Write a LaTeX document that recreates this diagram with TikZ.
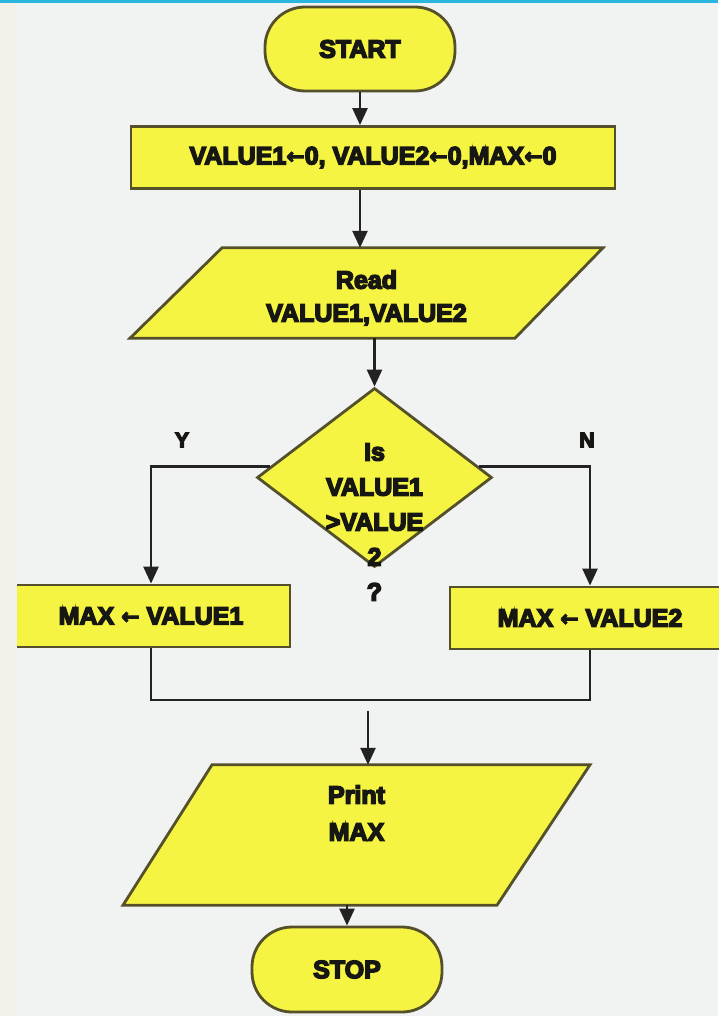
\documentclass[tikz,border=0pt]{standalone}
\usepackage{fontspec}
\setmainfont{Liberation Sans}[BoldFeatures={FakeBold=6}]
\newfontfamily\arrowfont{DejaVu Sans}[BoldFeatures={FakeBold=4}]
\newcommand\myarrow{{\arrowfont\bfseries\fontsize{22}{22}\selectfont\raisebox{0.5pt}{←}}}
\usetikzlibrary{shapes.geometric,arrows.meta,backgrounds,calc}
\definecolor{yel}{RGB}{246,244,66}
\definecolor{boxcol}{RGB}{84,80,42}
\definecolor{linecol}{RGB}{34,34,34}
\definecolor{txtcol}{RGB}{22,22,18}
\definecolor{bgmain}{RGB}{241,242,242}
\definecolor{bgside}{RGB}{243,240,234}
\definecolor{topc}{RGB}{40,182,222}
\newcommand\mylines[3]{\makebox[0pt]{\raisebox{#1}[0pt][0pt]{\fontsize{25}{#2}\selectfont\begin{tabular}[t]{@{}c@{}}#3\end{tabular}}}}
\tikzset{
  shapeline/.style={draw=boxcol, line width=2.8pt, fill=yel, inner sep=0pt},
  conn/.style={draw=linecol, line width=2.5pt},
  arr/.style={conn, -{Triangle[length=17pt,width=15pt]}},
  txt/.style={font=\bfseries\fontsize{25}{35}\selectfont, text=txtcol},
  term/.style={shapeline, txt, rectangle, rounded corners=40pt, minimum width=190pt, minimum height=84pt},
  procbox/.style={shapeline, txt, rectangle, minimum height=62pt},
  iotext/.style={txt, rectangle, inner sep=0pt},
  lbl/.style={font=\bfseries\fontsize{21}{24}\selectfont, text=txtcol, inner sep=0pt},
}
\begin{document}
\begin{tikzpicture}[x=1pt,y=-1pt]
\useasboundingbox (0,0) rectangle (718,1016);
\begin{scope}[on background layer]
  \fill[bgmain] (0,0) rectangle (718,1016);
\end{scope}
\node[term] (start) at (360,49) {START};
\node[procbox, minimum width=484pt] (init) at (373,157.5) {VALUE1\myarrow0, VALUE2\myarrow0,MAX\myarrow0};
\node[iotext, minimum height=90pt] (read) at (366.5,293) {\mylines{4.4pt}{33pt}{Read\\VALUE1,VALUE2}};
\node[shapeline, txt, diamond, minimum width=235pt, minimum height=179pt] (dia) at (374.5,477.5) {\mylines{17pt}{35pt}{Is\\VALUE1\\>VALUE\\2\\?}};
\node[lbl] (ylab) at (182,440) {Y};
\node[lbl] (nlab) at (587,440) {N};
\node[procbox, minimum width=278pt] (b1) at (151,616) {MAX \myarrow\ VALUE1};
\node[procbox, minimum width=280pt] (b2) at (590,618) {MAX \myarrow\ VALUE2};
\node[iotext, minimum height=140pt] (print) at (356.5,835) {\mylines{31.4pt}{37pt}{Print\\MAX}};
\node[term, minimum height=85pt] (stop) at (347,969.5) {STOP};
\begin{scope}[on background layer]
  \draw[shapeline] ($(read.north)+(-144.5,0)$) -- ($(read.north)+(236.5,0)$)
     -- ($(read.south)+(148.5,0)$) -- ($(read.south)+(-236.5,0)$) -- cycle;
  \draw[shapeline] ($(print.north)+(-144.5,0)$) -- ($(print.north)+(233.5,0)$)
     -- ($(print.south)+(140.5,0)$) -- ($(print.south)+(-233.5,0)$) -- cycle;
\end{scope}
\coordinate (mrg) at (368,700);
\coordinate (mrgout) at (368,711);
% connectors
\draw[arr] (start.south) -- (start.south |- init.north);
\draw[arr] (init.south -| start.south) -- (start.south |- read.north);
\draw[arr] (dia.north |- read.south) -- (dia.north);
\draw[arr] (dia.174) -| (b1.north);
\draw[arr] (dia.6) -| (b2.north);
\draw[conn] (b1.south) |- (mrg) -| (b2.south);
\draw[arr] (mrgout) -- (mrgout |- print.north);
\draw[arr] (stop.north |- print.south) -- (stop.north);
% frame
\fill[bgside] (0,0) rectangle (17,1016);
\fill[topc] (0,0) rectangle (718,3);
\end{tikzpicture}
\end{document}
